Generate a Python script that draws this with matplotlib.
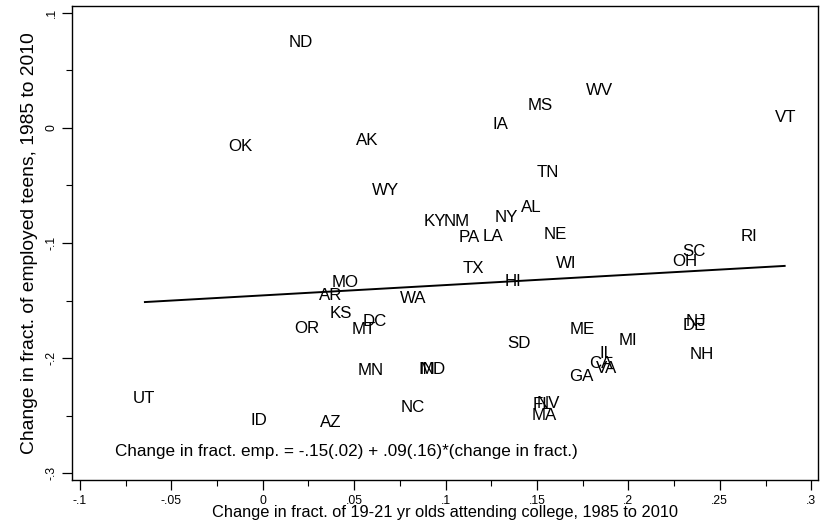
import matplotlib
matplotlib.use("Agg")
import matplotlib.pyplot as plt
from matplotlib.ticker import FixedLocator, MultipleLocator
import numpy as np

# State-level changes, 1985 to 2010
states = ["ND", "OK", "AK", "WY", "WV", "MS", "IA", "VT", "TN", "AL",
          "NY", "KY", "NM", "PA", "LA", "NE", "RI", "SC", "OH", "TX",
          "WI", "HI", "MO", "AR", "WA", "KS", "DC", "MT", "OR", "MN",
          "UT", "ID", "AZ", "NC", "IN", "MD", "SD", "ME", "MI", "IL",
          "CA", "VA", "GA", "NJ", "DE", "NH", "NV", "FL", "MA"]
college_change = [0.021, -0.012, 0.057, 0.067, 0.184, 0.152, 0.130, 0.286, 0.156, 0.147,
                  0.133, 0.094, 0.106, 0.113, 0.126, 0.160, 0.266, 0.236, 0.231, 0.115,
                  0.166, 0.137, 0.045, 0.037, 0.082, 0.043, 0.061, 0.055, 0.024, 0.059,
                  -0.065, -0.002, 0.037, 0.082, 0.090, 0.093, 0.140, 0.175, 0.200, 0.188,
                  0.185, 0.188, 0.174, 0.237, 0.236, 0.240, 0.156, 0.153, 0.154]
emp_change = [0.074, -0.016, -0.011, -0.054, 0.032, 0.019, 0.003, 0.009, -0.039, -0.069,
              -0.078, -0.081, -0.081, -0.095, -0.094, -0.093, -0.094, -0.107, -0.116, -0.122,
              -0.118, -0.133, -0.134, -0.146, -0.148, -0.161, -0.168, -0.175, -0.174, -0.211,
              -0.235, -0.254, -0.256, -0.243, -0.210, -0.210, -0.187, -0.175, -0.185, -0.196,
              -0.205, -0.209, -0.216, -0.168, -0.172, -0.197, -0.239, -0.240, -0.250]

# Fitted line: coefficients and standard errors
intercept, intercept_se = -0.1455, 0.02
slope, slope_se = 0.0897, 0.16

x_ticks = [-0.1, -0.05, 0, 0.05, 0.1, 0.15, 0.2, 0.25, 0.3]
x_ticklabels = ["-.1", "-.05", "0", ".05", ".1", ".15", ".2", ".25", ".3"]
y_ticks = [-0.3, -0.2, -0.1, 0, 0.1]
y_ticklabels = ["-.3", "-.2", "-.1", "0", ".1"]


def stata_num(v):
    s = f"{v:.2f}"
    return s.replace("0.", ".", 1)


plt.rcParams["font.family"] = ["Liberation Sans", "DejaVu Sans"]

fig = plt.figure(figsize=(8.24, 5.27), dpi=100)
ax = fig.add_axes([0.0877, 0.0892, 0.905, 0.8994])

for name, xv, yv in zip(states, college_change, emp_change):
    ax.text(xv, yv, name, ha="center", va="center", fontsize=12.2, color="black")

xs = np.array([min(college_change), max(college_change)])
ax.plot(xs, intercept + slope * xs, color="black", lw=1.4, solid_capstyle="butt")

eq = (f"Change in fract. emp. = {stata_num(intercept)}({stata_num(intercept_se)}) + "
      f"{stata_num(slope)}({stata_num(slope_se)})*(change in fract.)")
ax.text(-0.081, -0.281, eq, ha="left", va="center", fontsize=12.3)

ax.set_xlim(-0.1042, 0.3037)
ax.set_ylim(-0.3058, 0.1058)

ax.xaxis.set_major_locator(FixedLocator(x_ticks))
ax.set_xticklabels(x_ticklabels)
ax.xaxis.set_minor_locator(MultipleLocator(0.025))
ax.yaxis.set_major_locator(FixedLocator(y_ticks))
ax.set_yticklabels(y_ticklabels, rotation=90, va="center")
ax.yaxis.set_minor_locator(MultipleLocator(0.05))

ax.tick_params(which="major", direction="out", length=7, width=0.9, labelsize=8.8, pad=3.5)
ax.tick_params(which="minor", direction="out", length=4.5, width=0.8)
for sp in ax.spines.values():
    sp.set_linewidth(1.0)

ax.set_xlabel("Change in fract. of 19-21 yr olds attending college, 1985 to 2010",
              fontsize=11.8, va="center")
ax.xaxis.set_label_coords(0.5, -0.0685)
ax.set_ylabel("Change in fract. of employed teens, 1985 to 2010",
              fontsize=13.9, va="center")
ax.yaxis.set_label_coords(-0.058, 0.5)

fig.savefig("out.png", dpi=100, facecolor="white")
